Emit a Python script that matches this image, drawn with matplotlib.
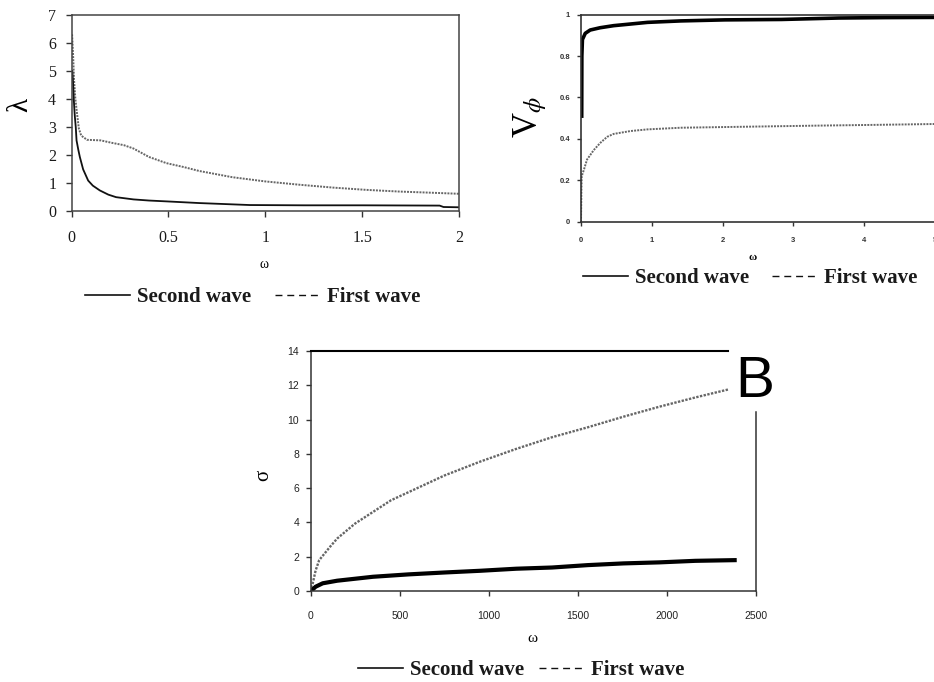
import matplotlib
matplotlib.use("Agg")
import matplotlib.pyplot as plt
from matplotlib.lines import Line2D

plt.rcParams['mathtext.fontset'] = 'stix'

# ---------------- data ----------------
# Panel A-left: lambda vs omega
lam_w2 = [0.004, 0.008, 0.012, 0.017, 0.022, 0.026, 0.035, 0.043, 0.06, 0.086, 0.11, 0.146,
          0.19, 0.23, 0.32, 0.4, 0.49, 0.66, 0.92, 1.2, 1.5, 1.9, 1.92, 2.0]
lam_y2 = [5.0, 4.6, 3.96, 3.4, 3.0, 2.53, 2.2, 1.94, 1.5, 1.1, 0.92, 0.75,
          0.6, 0.51, 0.43, 0.39, 0.36, 0.30, 0.23, 0.22, 0.22, 0.21, 0.16, 0.15]
lam_w1 = [0.003, 0.008, 0.013, 0.02, 0.03, 0.038, 0.05, 0.08, 0.15, 0.21, 0.27, 0.32,
          0.4, 0.49, 0.58, 0.66, 0.83, 1.0, 1.18, 1.35, 1.52, 1.69, 1.85, 2.0]
lam_y1 = [6.3, 5.6, 4.7, 4.0, 3.4, 2.95, 2.7, 2.55, 2.53, 2.44, 2.36, 2.24,
          1.94, 1.72, 1.58, 1.44, 1.22, 1.07, 0.95, 0.85, 0.77, 0.71, 0.67, 0.63]

# Panel A-right: V_phi vs omega
v_w2 = [0.01, 0.012, 0.02, 0.06, 0.13, 0.27, 0.46, 0.7, 0.94, 1.41, 2.03, 2.83, 3.64, 4.3, 5.0]
v_y2 = [0.51, 0.80, 0.88, 0.91, 0.926, 0.937, 0.947, 0.955, 0.963, 0.97, 0.975, 0.977, 0.984, 0.986, 0.987]
v_w1 = [0.0, 0.005, 0.01, 0.04, 0.085, 0.18, 0.27, 0.37, 0.46, 0.7, 0.94, 1.41, 2.36, 3.31, 4.2, 5.0]
v_y1 = [0.0, 0.14, 0.22, 0.25, 0.30, 0.346, 0.38, 0.41, 0.424, 0.438, 0.446, 0.454, 0.459, 0.464, 0.468, 0.472]

# Panel B: sigma vs omega
s_w1 = [0, 10, 26, 46, 107, 147, 247, 348, 449, 549, 750, 951, 1153, 1354, 1555, 1756, 1957, 2159, 2350]
s_y1 = [0.2, 0.45, 1.2, 1.8, 2.58, 3.06, 3.93, 4.61, 5.29, 5.77, 6.74, 7.55, 8.29, 8.97, 9.55,
        10.17, 10.75, 11.29, 11.77]
s_w2 = [0, 26, 66, 147, 348, 549, 750, 951, 1153, 1354, 1555, 1756, 1957, 2159, 2380]
s_y2 = [0, 0.25, 0.45, 0.6, 0.83, 0.97, 1.08, 1.18, 1.3, 1.37, 1.51, 1.61, 1.67, 1.76, 1.8]

lam_xticks = [0, 0.5, 1, 1.5, 2]
lam_xlabels = ['0', '0.5', '1', '1.5', '2']
lam_yticks = [0, 1, 2, 3, 4, 5, 6, 7]
v_xticks = [0, 1, 2, 3, 4, 5]
v_yticks = [0, 0.2, 0.4, 0.6, 0.8, 1.0]
v_ylabels = ['0', '0.2', '0.4', '0.6', '0.8', '1']
s_xticks = [0, 500, 1000, 1500, 2000, 2500]
s_yticks = [0, 2, 4, 6, 8, 10, 12, 14]

legend_labels = ['Second wave', 'First wave']

# ---------------- figure ----------------
W, H = 934, 682
fig = plt.figure(figsize=(W / 100, H / 100), dpi=100)


def fx(px):
    return px / W


def fy(py):
    return 1 - py / H


def axes_px(l, t, r, b):
    return fig.add_axes([fx(l), fy(b), (r - l) / W, (b - t) / H])


SERIF = 'Liberation Serif'
SANS = 'Liberation Sans'
DOT = '#666666'

# ---- Panel 1 ----
ax1 = axes_px(71.5, 14.7, 459, 211.5)
ax1.plot(lam_w1, lam_y1, color=DOT, lw=1.4, ls=(0, (1, 0.6)))
ax1.plot(lam_w2, lam_y2, color='#111111', lw=1.3)
ax1.set_xlim(0, 2)
ax1.set_ylim(0, 7)
ax1.set_xticks(lam_xticks)
ax1.set_xticklabels(lam_xlabels)
ax1.set_yticks(lam_yticks)
for s in ax1.spines.values():
    s.set_color('#444444')
    s.set_linewidth(1.1)
ax1.tick_params(direction='out', length=4, width=1, color='#333333')
ax1.tick_params(axis='x', pad=9)
ax1.tick_params(axis='y', pad=7)
for lab in ax1.get_xticklabels() + ax1.get_yticklabels():
    lab.set_fontfamily(SERIF)
    lab.set_fontsize(11.5)
    lab.set_color('#1a1a1a')
fig.text(fx(20), fy(105), 'λ', family=SERIF, rotation=90, fontsize=21, ha='center', va='center')
fig.text(fx(264), fy(265), 'ω', family=SERIF, fontsize=10, ha='center', va='center')

# ---- Panel 2 ----
ax2 = axes_px(581, 14.7, 935, 221.7)
ax2.plot(v_w1, v_y1, color=DOT, lw=1.4, ls=(0, (1, 0.6)))
ax2.plot(v_w2, v_y2, color='black', lw=2.6)
ax2.set_xlim(0, 5)
ax2.set_ylim(0, 1)
ax2.set_xticks(v_xticks)
ax2.set_yticks(v_yticks)
ax2.set_yticklabels(v_ylabels)
ax2.spines['right'].set_visible(False)
for s in ['left', 'bottom', 'top']:
    ax2.spines[s].set_color('#333333')
    ax2.spines[s].set_linewidth(1.2)
ax2.tick_params(direction='out', length=3, width=1, color='#333333')
ax2.tick_params(axis='x', pad=8)
ax2.tick_params(axis='y', pad=5)
for lab in ax2.get_xticklabels() + ax2.get_yticklabels():
    lab.set_fontfamily(SANS)
    lab.set_fontsize(5.5)
    lab.set_fontweight('bold')
    lab.set_color('#333333')
fig.text(fx(530), fy(117), r'V$_{\phi}$', family=SERIF, rotation=90, fontsize=25,
         ha='center', va='center')
fig.text(fx(753), fy(257), 'ω', family=SERIF, fontsize=8, fontweight='bold',
         ha='center', va='center')

# ---- Panel 3 ----
ax3 = axes_px(311, 351, 756, 591)
ax3.plot(s_w1, s_y1, color=DOT, lw=1.7, ls=(0, (1, 0.6)))
ax3.plot(s_w2, s_y2, color='black', lw=3.0)
ax3.set_xlim(0, 2500)
ax3.set_ylim(0, 14)
ax3.set_xticks(s_xticks)
ax3.set_yticks(s_yticks)
for s in ax3.spines.values():
    s.set_color('#333333')
    s.set_linewidth(1.1)
ax3.spines['top'].set_color('black')
ax3.spines['top'].set_linewidth(1.5)
ax3.spines['top'].set_bounds(0, 2343)
ax3.spines['right'].set_bounds(0, 10.44)
ax3.tick_params(direction='out', length=3.5, width=1, color='#333333')
ax3.tick_params(axis='x', pad=11)
ax3.tick_params(axis='y', pad=5)
for lab in ax3.get_xticklabels() + ax3.get_yticklabels():
    lab.set_fontfamily(SANS)
    lab.set_fontsize(7.5)
    lab.set_color('#222222')
fig.text(fx(264), fy(475), 'σ', family=SERIF, rotation=90, fontsize=15, ha='center', va='center')
fig.text(fx(532), fy(638), 'ω', family=SERIF, fontsize=11, ha='center', va='center')
fig.text(fx(755), fy(397), 'B', family=SANS, fontsize=42, ha='center', va='baseline')

# ---- legends ----
def add_legend(x0, yc, colspace, size=15):
    handles = [Line2D([], [], color='#111111', lw=1.2),
               Line2D([], [], color='#111111', lw=1.0, ls=(0, (5, 3.5)))]
    fs_px = size * 100 / 72
    leg = fig.legend(handles, legend_labels, loc='center left',
                     bbox_to_anchor=(fx(x0), fy(yc)), ncol=2, frameon=False,
                     borderpad=0, borderaxespad=0, handlelength=45 / fs_px,
                     handletextpad=7 / fs_px, columnspacing=colspace / fs_px,
                     prop={'family': SERIF, 'weight': 'bold', 'size': size})
    for t in leg.get_texts():
        t.set_color('#1a1a1a')
    return leg


add_legend(85, 297, 24)
add_legend(583, 278, 23)
add_legend(358, 670, 15)

fig.savefig('out.png', dpi=100)
